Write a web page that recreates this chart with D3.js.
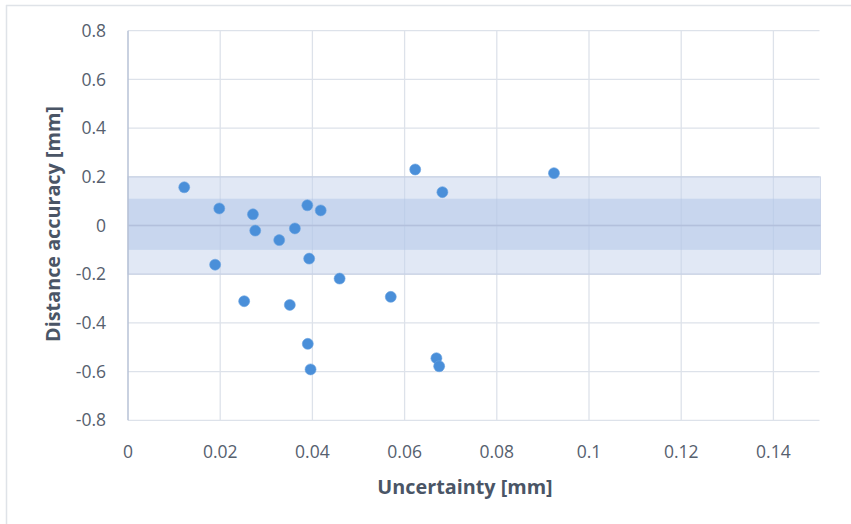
<!DOCTYPE html>
<html><head><meta charset="utf-8">
<script src="https://cdn.jsdelivr.net/npm/d3@7"></script>
<style>body{margin:0;background:#fff;}svg{display:block;font-family:"Open Sans",Lato,sans-serif;}</style>
</head><body>
<svg id="c" width="851" height="524"></svg>
<script>
const uncertainty = [0.0122,0.0198,0.0189,0.0271,0.0276,0.0328,0.0362,0.0389,0.0418,0.0393,0.0459,0.0570,0.0252,0.0351,0.0390,0.0396,0.0623,0.0682,0.0924,0.0669,0.0675];
const accuracy    = [0.157,0.070,-0.161,0.046,-0.021,-0.060,-0.012,0.083,0.062,-0.136,-0.218,-0.293,-0.311,-0.326,-0.486,-0.591,0.230,0.137,0.215,-0.545,-0.578];
const xTicks = [0,0.02,0.04,0.06,0.08,0.1,0.12,0.14];
const yTicks = [-0.8,-0.6,-0.4,-0.2,0,0.2,0.4,0.6,0.8];
const outerBand = [-0.2,0.2];
const innerBand = [-0.10,0.11];

const svg = d3.select("#c");
const x = d3.scaleLinear().domain([0,0.15]).range([128,819.5]);
const y = d3.scaleLinear().domain([-0.8,0.8]).range([420.3,30.7]);
const txt = "#56606e";

// outer frame (top + left)
svg.append("line").attr("x1",6).attr("x2",851).attr("y1",5.5).attr("y2",5.5).attr("stroke","#dfe3e8").attr("stroke-width",1.5);
svg.append("line").attr("x1",6.5).attr("x2",6.5).attr("y1",5).attr("y2",524).attr("stroke","#dfe3e8").attr("stroke-width",1.5);

// gridlines
svg.append("g").selectAll("line").data(yTicks).join("line")
  .attr("x1",x(0)).attr("x2",x(0.15)).attr("y1",d=>y(d)).attr("y2",d=>y(d))
  .attr("stroke","#dde2ea").attr("stroke-width",1.3);
svg.append("g").selectAll("line").data(xTicks.slice(1)).join("line")
  .attr("x1",d=>x(d)).attr("x2",d=>x(d)).attr("y1",y(0.8)).attr("y2",y(-0.8))
  .attr("stroke","#dde2ea").attr("stroke-width",1.3);

// bands
svg.append("rect").attr("x",x(0)).attr("width",x(0.15)-x(0)+1)
  .attr("y",y(outerBand[1])).attr("height",y(outerBand[0])-y(outerBand[1]))
  .attr("fill","#c4d2ec").attr("fill-opacity",0.5).attr("stroke","#b9c6e0").attr("stroke-opacity",0.6);
svg.append("rect").attr("x",x(0)).attr("width",x(0.15)-x(0)+1)
  .attr("y",y(innerBand[1])).attr("height",y(innerBand[0])-y(innerBand[1]))
  .attr("fill","#aac0e6").attr("fill-opacity",0.45);
// zero line
svg.append("line").attr("x1",x(0)).attr("x2",x(0.15)+1).attr("y1",y(0)).attr("y2",y(0))
  .attr("stroke","#b3c0dc").attr("stroke-width",1.3);

// y axis line
svg.append("line").attr("x1",x(0)).attr("x2",x(0)).attr("y1",y(0.8)).attr("y2",y(-0.8))
  .attr("stroke","#b7c2d6").attr("stroke-width",1.5);

// tick labels
svg.append("g").selectAll("text").data(yTicks).join("text")
  .attr("x",106).attr("y",d=>y(d)).attr("dy","0.35em").attr("text-anchor","end")
  .attr("font-size",17.5).attr("fill",txt).text(d=>String(d));
svg.append("g").selectAll("text").data(xTicks).join("text")
  .attr("x",d=>x(d)).attr("y",452).attr("dy","0.35em").attr("text-anchor","middle")
  .attr("font-size",17.5).attr("fill",txt).text(d=>String(d));

// points
svg.append("g").selectAll("circle").data(uncertainty.map((u,i)=>[u,accuracy[i]])).join("circle")
  .attr("cx",d=>x(d[0])).attr("cy",d=>y(d[1])).attr("r",5.5)
  .attr("fill","#4a8fd9").attr("stroke","#6aa3e0").attr("stroke-width",0.6);

// axis titles
svg.append("text").attr("x",465).attr("y",487).attr("dy","0.35em").attr("text-anchor","middle")
  .attr("font-size",19.8).attr("font-weight","bold").attr("fill","#4a5566").text("Uncertainty [mm]");
svg.append("text").attr("transform","translate(53,224) rotate(-90)").attr("dy","0.35em").attr("text-anchor","middle")
  .attr("font-size",19.8).attr("font-weight","bold").attr("fill","#4a5566").text("Distance accuracy [mm]");
</script>
</body></html>
